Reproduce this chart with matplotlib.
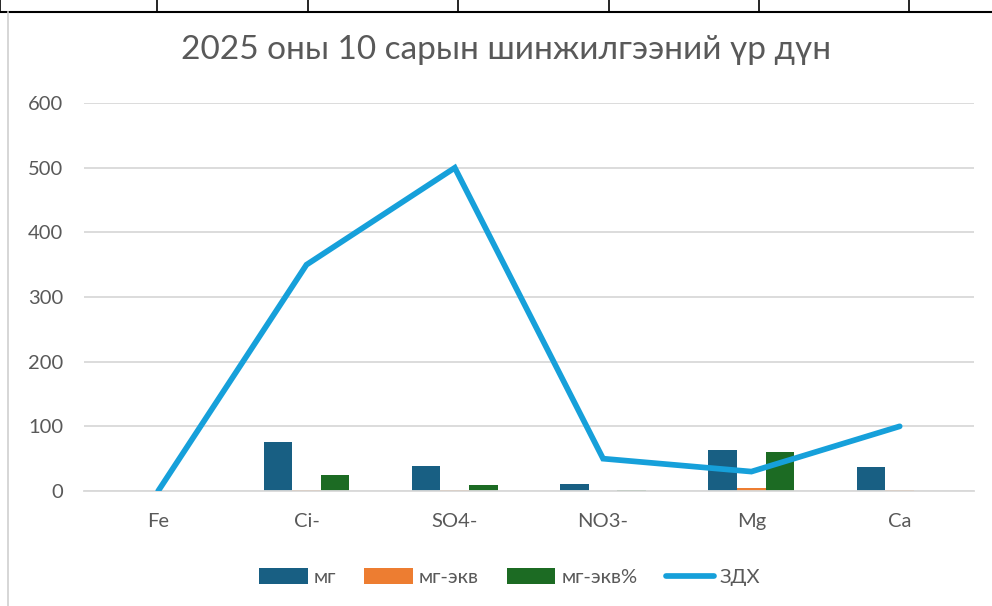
import matplotlib
matplotlib.use("Agg")
import matplotlib.pyplot as plt
import numpy as np
from matplotlib.lines import Line2D

plt.rcParams['font.family'] = ['Lato', 'DejaVu Sans']

categories = ["Fe", "Ci-", "SO4-", "NO3-", "Mg", "Ca"]
mg = [0, 76, 38, 11, 64, 37]
mg_ekv = [0, 1.5, 0.8, 0.3, 4.5, 1.8]
mg_ekv_pct = [0, 24, 8.5, 1, 60.5, 0.3]
zdh = [0, 350, 500, 50, 30, 100]

text_col = '#595959'
grid_col = '#d9d9d9'

fig = plt.figure(figsize=(9.92, 6.06), dpi=100)
ax = fig.add_axes([0.0847, 0.1898, 0.897, 0.640])

x = np.arange(len(categories))
w = 0.193
b1 = ax.bar(x - w, mg, w, color='#185F83', label='мг', zorder=2)
b2 = ax.bar(x, mg_ekv, w, color='#ED7D31', label='мг-экв', zorder=2)
b3 = ax.bar(x + w, mg_ekv_pct, w, color='#1C6B23', label='мг-экв%', zorder=2)
l1, = ax.plot(x, zdh, color='#16A0DA', linewidth=4.1, label='ЗДХ', zorder=3,
              solid_capstyle='round', solid_joinstyle='miter')

ax.set_xlim(-0.5, 5.5)
ax.set_ylim(0, 600)
ax.set_yticks(range(0, 601, 100))
ax.set_xticks(x)
ax.set_xticklabels(categories)
ax.grid(axis='y', color=grid_col, linewidth=1.3, zorder=0)
for s in ['top', 'right', 'left']:
    ax.spines[s].set_visible(False)
ax.spines['bottom'].set_color(grid_col)
ax.spines['bottom'].set_linewidth(1.3)
ax.tick_params(axis='both', length=0, colors=text_col, labelsize=14.5)
ax.tick_params(axis='y', pad=15)
ax.tick_params(axis='x', pad=16)

fig.text(0.51, 1 - 50 / 606, "2025 оны 10 сарын шинжилгээний үр дүн",
         ha='center', va='center', fontsize=24, color=text_col)

fig.legend([b1, b2, b3, l1], ['мг', 'мг-экв', 'мг-экв%', 'ЗДХ'], loc='center',
           bbox_to_anchor=(0.514, 1 - 577 / 606), ncol=4, frameon=False,
           fontsize=14.5, labelcolor=text_col, handlelength=2.4, handleheight=0.8,
           columnspacing=1.4, handletextpad=0.3)

# page border from the document
fig.add_artist(Line2D([0, 1], [1 - 12 / 606, 1 - 12 / 606], color='black', linewidth=1.5))
for px in [0, 157, 308, 458, 609, 759, 909]:
    fig.add_artist(Line2D([px / 992, px / 992], [1 - 12 / 606, 1], color='black', linewidth=1.2))
fig.add_artist(Line2D([8 / 992, 8 / 992], [0, 1 - 12 / 606], color='#d0d0d0', linewidth=1.2))

fig.savefig("out.png", dpi=100)
